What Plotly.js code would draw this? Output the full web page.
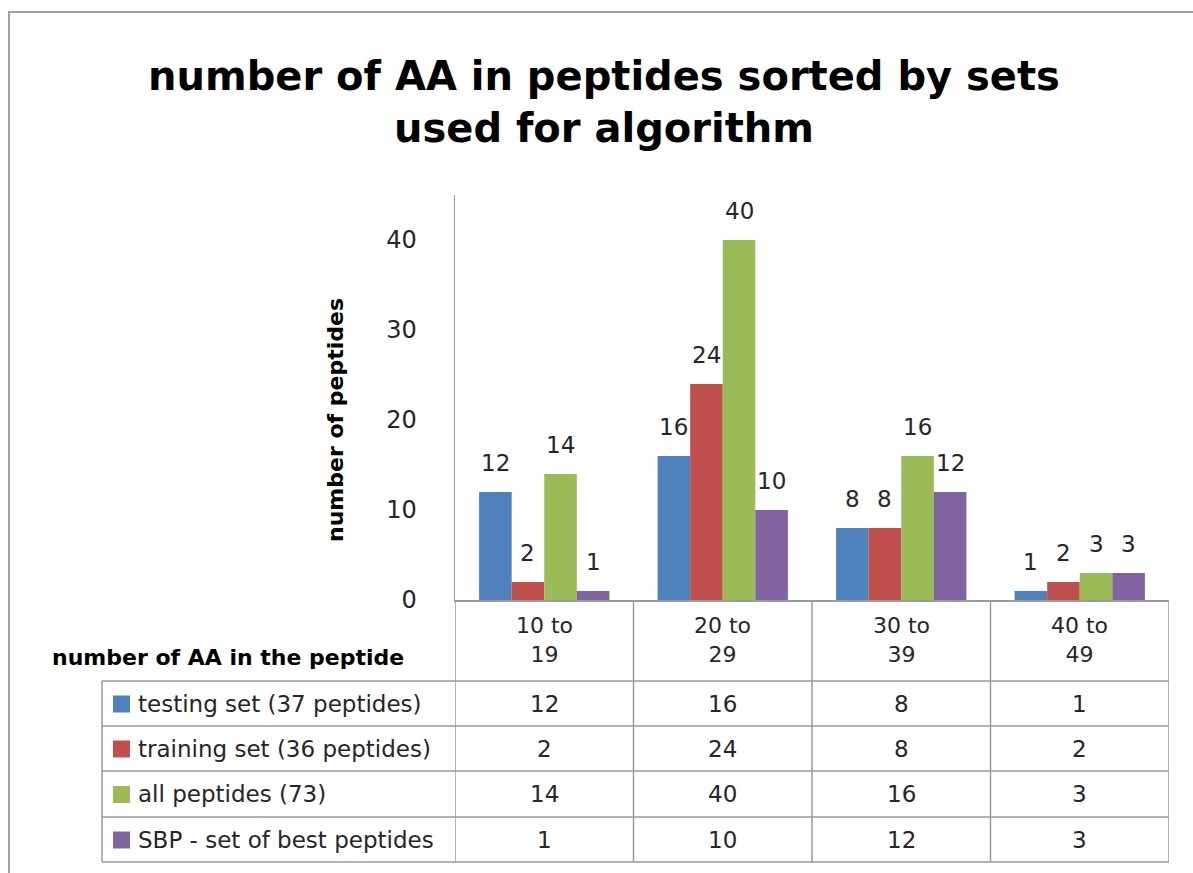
<!DOCTYPE html>
<html>
<head>
<meta charset="utf-8">
<script src="https://cdn.plot.ly/plotly-3.0.1.min.js"></script>
<style>html,body{margin:0;padding:0;background:#fff;}#chart{width:1193px;height:873px;}</style>
</head>
<body>
<div id="chart"></div>
<script>
// ---- data ----
const categories = ["10 to 19", "20 to 29", "30 to 39", "40 to 49"];
const categoryLabels = ["10 to<br>19", "20 to<br>29", "30 to<br>39", "40 to<br>49"];
const seriesNames = ["testing set (37 peptides)", "training set (36 peptides)", "all peptides (73)", "SBP - set of best peptides"];
const testingSet = [12, 16, 8, 1];
const trainingSet = [2, 24, 8, 2];
const allPeptides = [14, 40, 16, 3];
const bestPeptides = [1, 10, 12, 3];
const yTicks = [0, 10, 20, 30, 40];

// ---- styling / layout ----
const W = 1193, H = 873;
const L = 455, R = 1169, T = 195, B = 600;
const colors = ["#4F81BD", "#C0504D", "#9BBB59", "#8064A2"];
const FONT = "DejaVu Sans, sans-serif";
const TXT = "#262626";
const bargap = 0.27;
const seriesValues = [testingSet, trainingSet, allPeptides, bestPeptides];

const px = x => (x - L) / (R - L);
const py = y => (B - y) / (B - T);

const traces = seriesValues.map((vals, s) => ({
  type: "bar",
  name: seriesNames[s],
  x: categories,
  y: vals,
  marker: {color: colors[s]},
  hoverinfo: "x+y+name"
}));

const annotations = [];
const shapes = [];
const nS = seriesValues.length;
const bw = (1 - bargap) / nS;

// data labels above bars
seriesValues.forEach((vals, s) => {
  vals.forEach((v, i) => {
    annotations.push({
      x: i + (s - (nS - 1) / 2) * bw, y: v, xref: "x", yref: "y",
      text: String(v), showarrow: false, xanchor: "center", yanchor: "bottom", yshift: 14,
      font: {family: FONT, size: 23, color: TXT}
    });
  });
});

// y axis title
annotations.push({
  x: px(335), y: py(420), xref: "paper", yref: "paper", xanchor: "center", yanchor: "middle",
  text: "<b>number of peptides</b>", textangle: -90, showarrow: false,
  font: {family: FONT, size: 22, color: "#000"}
});

// table
const gridColor = "#9a9a9a";
const rowLines = [681, 726, 771, 817, 862];
const tableLeft = 102;
rowLines.forEach(yl => {
  shapes.push({type: "line", xref: "paper", yref: "paper",
    x0: px(tableLeft), x1: px(R), y0: py(yl), y1: py(yl),
    line: {color: gridColor, width: 1.5}});
});
shapes.push({type: "line", xref: "paper", yref: "paper",
  x0: px(tableLeft), x1: px(tableLeft), y0: py(681), y1: py(862),
  line: {color: gridColor, width: 1.5}});
for (let i = 0; i <= categories.length; i++) {
  shapes.push({type: "line", xref: "x", yref: "paper",
    x0: i - 0.5, x1: i - 0.5, y0: 0, y1: py(862),
    line: {color: gridColor, width: 1.5}});
}
// header labels
categoryLabels.forEach((c, i) => {
  annotations.push({x: i, y: py(640), xref: "x", yref: "paper",
    xanchor: "center", yanchor: "middle",
    text: c, showarrow: false, align: "center",
    font: {family: FONT, size: 22, color: TXT}});
});
annotations.push({x: px(228), y: py(657), xref: "paper", yref: "paper",
  xanchor: "center", yanchor: "middle",
  text: "<b>number of AA in the peptide</b>", showarrow: false,
  font: {family: FONT, size: 22, color: "#000"}});
// rows
seriesValues.forEach((vals, s) => {
  const yc = (rowLines[s] + rowLines[s + 1]) / 2;
  shapes.push({type: "rect", xref: "paper", yref: "paper",
    x0: px(113), x1: px(130), y0: py(yc - 8), y1: py(yc + 9),
    line: {width: 0}, fillcolor: colors[s]});
  annotations.push({x: px(136), y: py(yc), xref: "paper", yref: "paper",
    xanchor: "left", yanchor: "middle", text: seriesNames[s], showarrow: false,
    font: {family: FONT, size: 23, color: TXT}});
  vals.forEach((v, i) => {
    annotations.push({x: i, y: py(yc), xref: "x", yref: "paper",
      xanchor: "center", yanchor: "middle",
      text: String(v), showarrow: false,
      font: {family: FONT, size: 23, color: TXT}});
  });
});

// outer frame
shapes.push({type: "rect", xref: "paper", yref: "paper",
  x0: px(9), x1: px(W + 20), y0: py(12), y1: py(H + 20),
  line: {color: "#a0a0a0", width: 2}, fillcolor: "rgba(0,0,0,0)", layer: "below"});

const layout = {
  width: W, height: H,
  margin: {l: L, r: W - R, t: T, b: H - B, pad: 0},
  paper_bgcolor: "#fff", plot_bgcolor: "#fff",
  showlegend: false,
  barmode: "group", bargap: bargap, bargroupgap: 0,
  title: {
    text: "<b>number of AA in peptides sorted by sets<br>used for algorithm</b>",
    x: 604 / W, xref: "container", xanchor: "center",
    y: 1 - 90 / H, yref: "container", yanchor: "middle",
    font: {family: FONT, size: 40, color: "#000"}
  },
  xaxis: {
    type: "category", range: [-0.5, categories.length - 0.5],
    showticklabels: false, ticks: "", showgrid: false, zeroline: false,
    showline: true, linecolor: gridColor, linewidth: 1.5, fixedrange: true
  },
  yaxis: {
    range: [0, 45], tickvals: yTicks, ticktext: yTicks.map(String),
    showgrid: false, zeroline: false, showline: true, linecolor: gridColor, linewidth: 1.5,
    ticks: "outside", ticklen: 32, tickcolor: "rgba(0,0,0,0)",
    tickfont: {family: FONT, size: 24, color: TXT}, fixedrange: true
  },
  annotations: annotations,
  shapes: shapes,
  font: {family: FONT}
};

Plotly.newPlot("chart", traces, layout, {displayModeBar: false, staticPlot: true});
</script>
</body>
</html>
